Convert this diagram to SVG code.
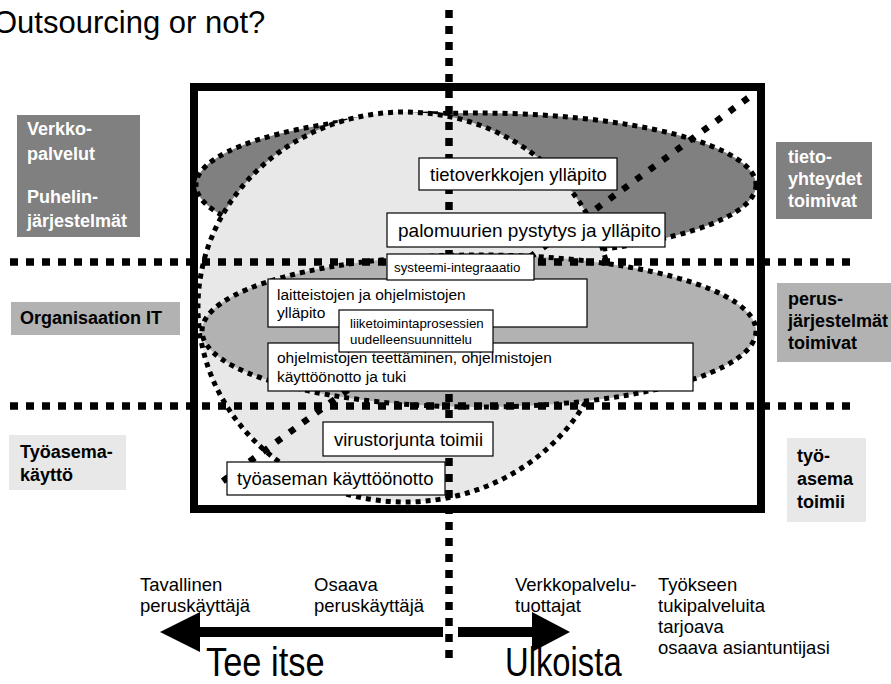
<svg xmlns="http://www.w3.org/2000/svg" width="891" height="684" viewBox="0 0 891 684">
  <style>
    text { font-family: "Liberation Sans", Arial, Helvetica, sans-serif; fill: #000; }
    .lbl { font-weight: bold; font-size: 18px; }
    .lblw { font-weight: bold; font-size: 18px; fill: #fff; }
    .big { font-size: 18.5px; }
    .mid { font-size: 15.5px; }
    .sm { font-size: 13.3px; }
    .axis { font-size: 18.5px; }
    .huge { font-size: 40px; }
    .ell { stroke: #000; stroke-width: 5; stroke-dasharray: 5 5; }
    .grid { fill: none; stroke: #000; stroke-width: 7.5; stroke-dasharray: 8 8; }
    .diag { fill: none; stroke: #000; stroke-width: 6.5; stroke-dasharray: 6.5 10; }
    .box { fill: #fff; stroke: #000; stroke-width: 1.2; }
  </style>

  <rect width="891" height="684" fill="#fff"/>

  <!-- title -->
  <text x="-7" y="33" font-size="31">Outsourcing or not?</text>

  <!-- main frame -->
  <rect id="frame" x="194" y="87" width="567" height="422" fill="#fff" stroke="#000" stroke-width="8"/>

  <!-- service areas -->
  <g id="areas">
    <ellipse id="area-network" class="ell" cx="476" cy="185" rx="280" ry="72" fill="#808080"/>
    <ellipse id="area-workstation" class="ell" cx="405" cy="307" rx="207" ry="195" fill="#e8e8e8"/>
    <ellipse id="area-organisation" class="ell" cx="479" cy="331" rx="277" ry="76" fill="#b2b2b2"/>
  </g>

  <!-- connectors: level dividers, make/buy divider, diagonal -->
  <g id="connectors">
    <line class="grid" x1="10" y1="262" x2="856" y2="262"/>
    <line class="grid" x1="10" y1="406" x2="856" y2="406"/>
    <line class="grid" x1="449" y1="10" x2="449" y2="665"/>
    <line class="diag" x1="748" y1="98" x2="216" y2="486"/>
  </g>

  <!-- task boxes -->
  <g id="n-tietoverkot">
    <rect class="box" x="419" y="158" width="198" height="32"/>
    <text class="big" x="430" y="181">tietoverkkojen ylläpito</text>
  </g>
  <g id="n-palomuurit">
    <rect class="box" x="387" y="213" width="278" height="34"/>
    <text x="398" y="237" font-size="19">palomuurien pystytys ja ylläpito</text>
  </g>
  <g id="n-laitteistot">
    <rect class="box" x="268" y="279" width="319" height="48"/>
    <text class="mid" x="277" y="300">laitteistojen ja ohjelmistojen</text>
    <text class="mid" x="277" y="318">ylläpito</text>
  </g>
  <g id="n-ohjelmistot">
    <rect class="box" x="268" y="343" width="425" height="48"/>
    <text class="mid" x="277" y="363">ohjelmistojen teettäminen, ohjelmistojen</text>
    <text class="mid" x="277" y="382">käyttöönotto ja tuki</text>
  </g>
  <g id="n-liiketoiminta">
    <rect class="box" x="339" y="310" width="154" height="42"/>
    <text class="sm" x="350" y="328">liiketoimintaprosessien</text>
    <text class="sm" x="350" y="344">uudelleensuunnittelu</text>
  </g>
  <g id="n-systeemi">
    <rect class="box" x="387" y="254" width="147" height="26"/>
    <text class="sm" x="394" y="272">systeemi-integraaatio</text>
  </g>
  <g id="n-virustorjunta">
    <rect class="box" x="323" y="422" width="170" height="34"/>
    <text class="big" x="334" y="446">virustorjunta toimii</text>
  </g>
  <g id="n-tyoasema">
    <rect class="box" x="227" y="462" width="218" height="33"/>
    <text class="big" x="237" y="485">työaseman käyttöönotto</text>
  </g>

  <!-- left level labels -->
  <g id="l-verkko">
    <rect x="17" y="115" width="123" height="122" fill="#808080"/>
    <text class="lblw" x="27" y="135">Verkko-</text>
    <text class="lblw" x="27" y="160">palvelut</text>
    <text class="lblw" x="27" y="203">Puhelin-</text>
    <text class="lblw" x="27" y="227">järjestelmät</text>
  </g>
  <g id="l-organisaatio">
    <rect x="11" y="302" width="169" height="33" fill="#b2b2b2"/>
    <text class="lbl" x="20" y="324">Organisaation IT</text>
  </g>
  <g id="l-tyoasema">
    <rect x="9" y="435" width="117" height="55" fill="#e8e8e8"/>
    <text class="lbl" x="20" y="458">Työasema-</text>
    <text class="lbl" x="20" y="481">käyttö</text>
  </g>

  <!-- right outcome labels -->
  <g id="r-tietoyhteydet">
    <rect x="776" y="142" width="96" height="77" fill="#808080"/>
    <text class="lblw" x="788" y="163">tieto-</text>
    <text class="lblw" x="788" y="185">yhteydet</text>
    <text class="lblw" x="788" y="207">toimivat</text>
  </g>
  <g id="r-perus">
    <rect x="777" y="283" width="114" height="79" fill="#b2b2b2"/>
    <text class="lbl" x="788" y="305">perus-</text>
    <text class="lbl" x="788" y="327">järjestelmät</text>
    <text class="lbl" x="788" y="349">toimivat</text>
  </g>
  <g id="r-tyoasema">
    <rect x="787" y="438" width="79" height="84" fill="#e8e8e8"/>
    <text class="lbl" x="797" y="462">työ-</text>
    <text class="lbl" x="797" y="485">asema</text>
    <text class="lbl" x="797" y="508">toimii</text>
  </g>

  <!-- bottom scale -->
  <g id="actors">
    <text class="axis" x="140" y="591">Tavallinen</text>
    <text class="axis" x="140" y="612">peruskäyttäjä</text>
    <text class="axis" x="314" y="591">Osaava</text>
    <text class="axis" x="314" y="612">peruskäyttäjä</text>
    <text class="axis" x="515" y="591">Verkkopalvelu-</text>
    <text class="axis" x="515" y="612">tuottajat</text>
    <text class="axis" x="658" y="591">Työkseen</text>
    <text class="axis" x="658" y="612">tukipalveluita</text>
    <text class="axis" x="658" y="633">tarjoava</text>
    <text class="axis" x="658" y="654">osaava asiantuntijasi</text>
  </g>
  <g id="arrows" fill="#000">
    <polygon points="160,632 200,612 200,627 443,627 443,637 200,637 200,652"/>
    <polygon points="570,632 532,612 532,627 458,627 458,637 532,637 532,652"/>
  </g>
  <g id="directions">
    <text class="huge" transform="translate(206,676) scale(0.86,1)">Tee itse</text>
    <text class="huge" transform="translate(505,676) scale(0.82,1)">Ulkoista</text>
  </g>
</svg>
